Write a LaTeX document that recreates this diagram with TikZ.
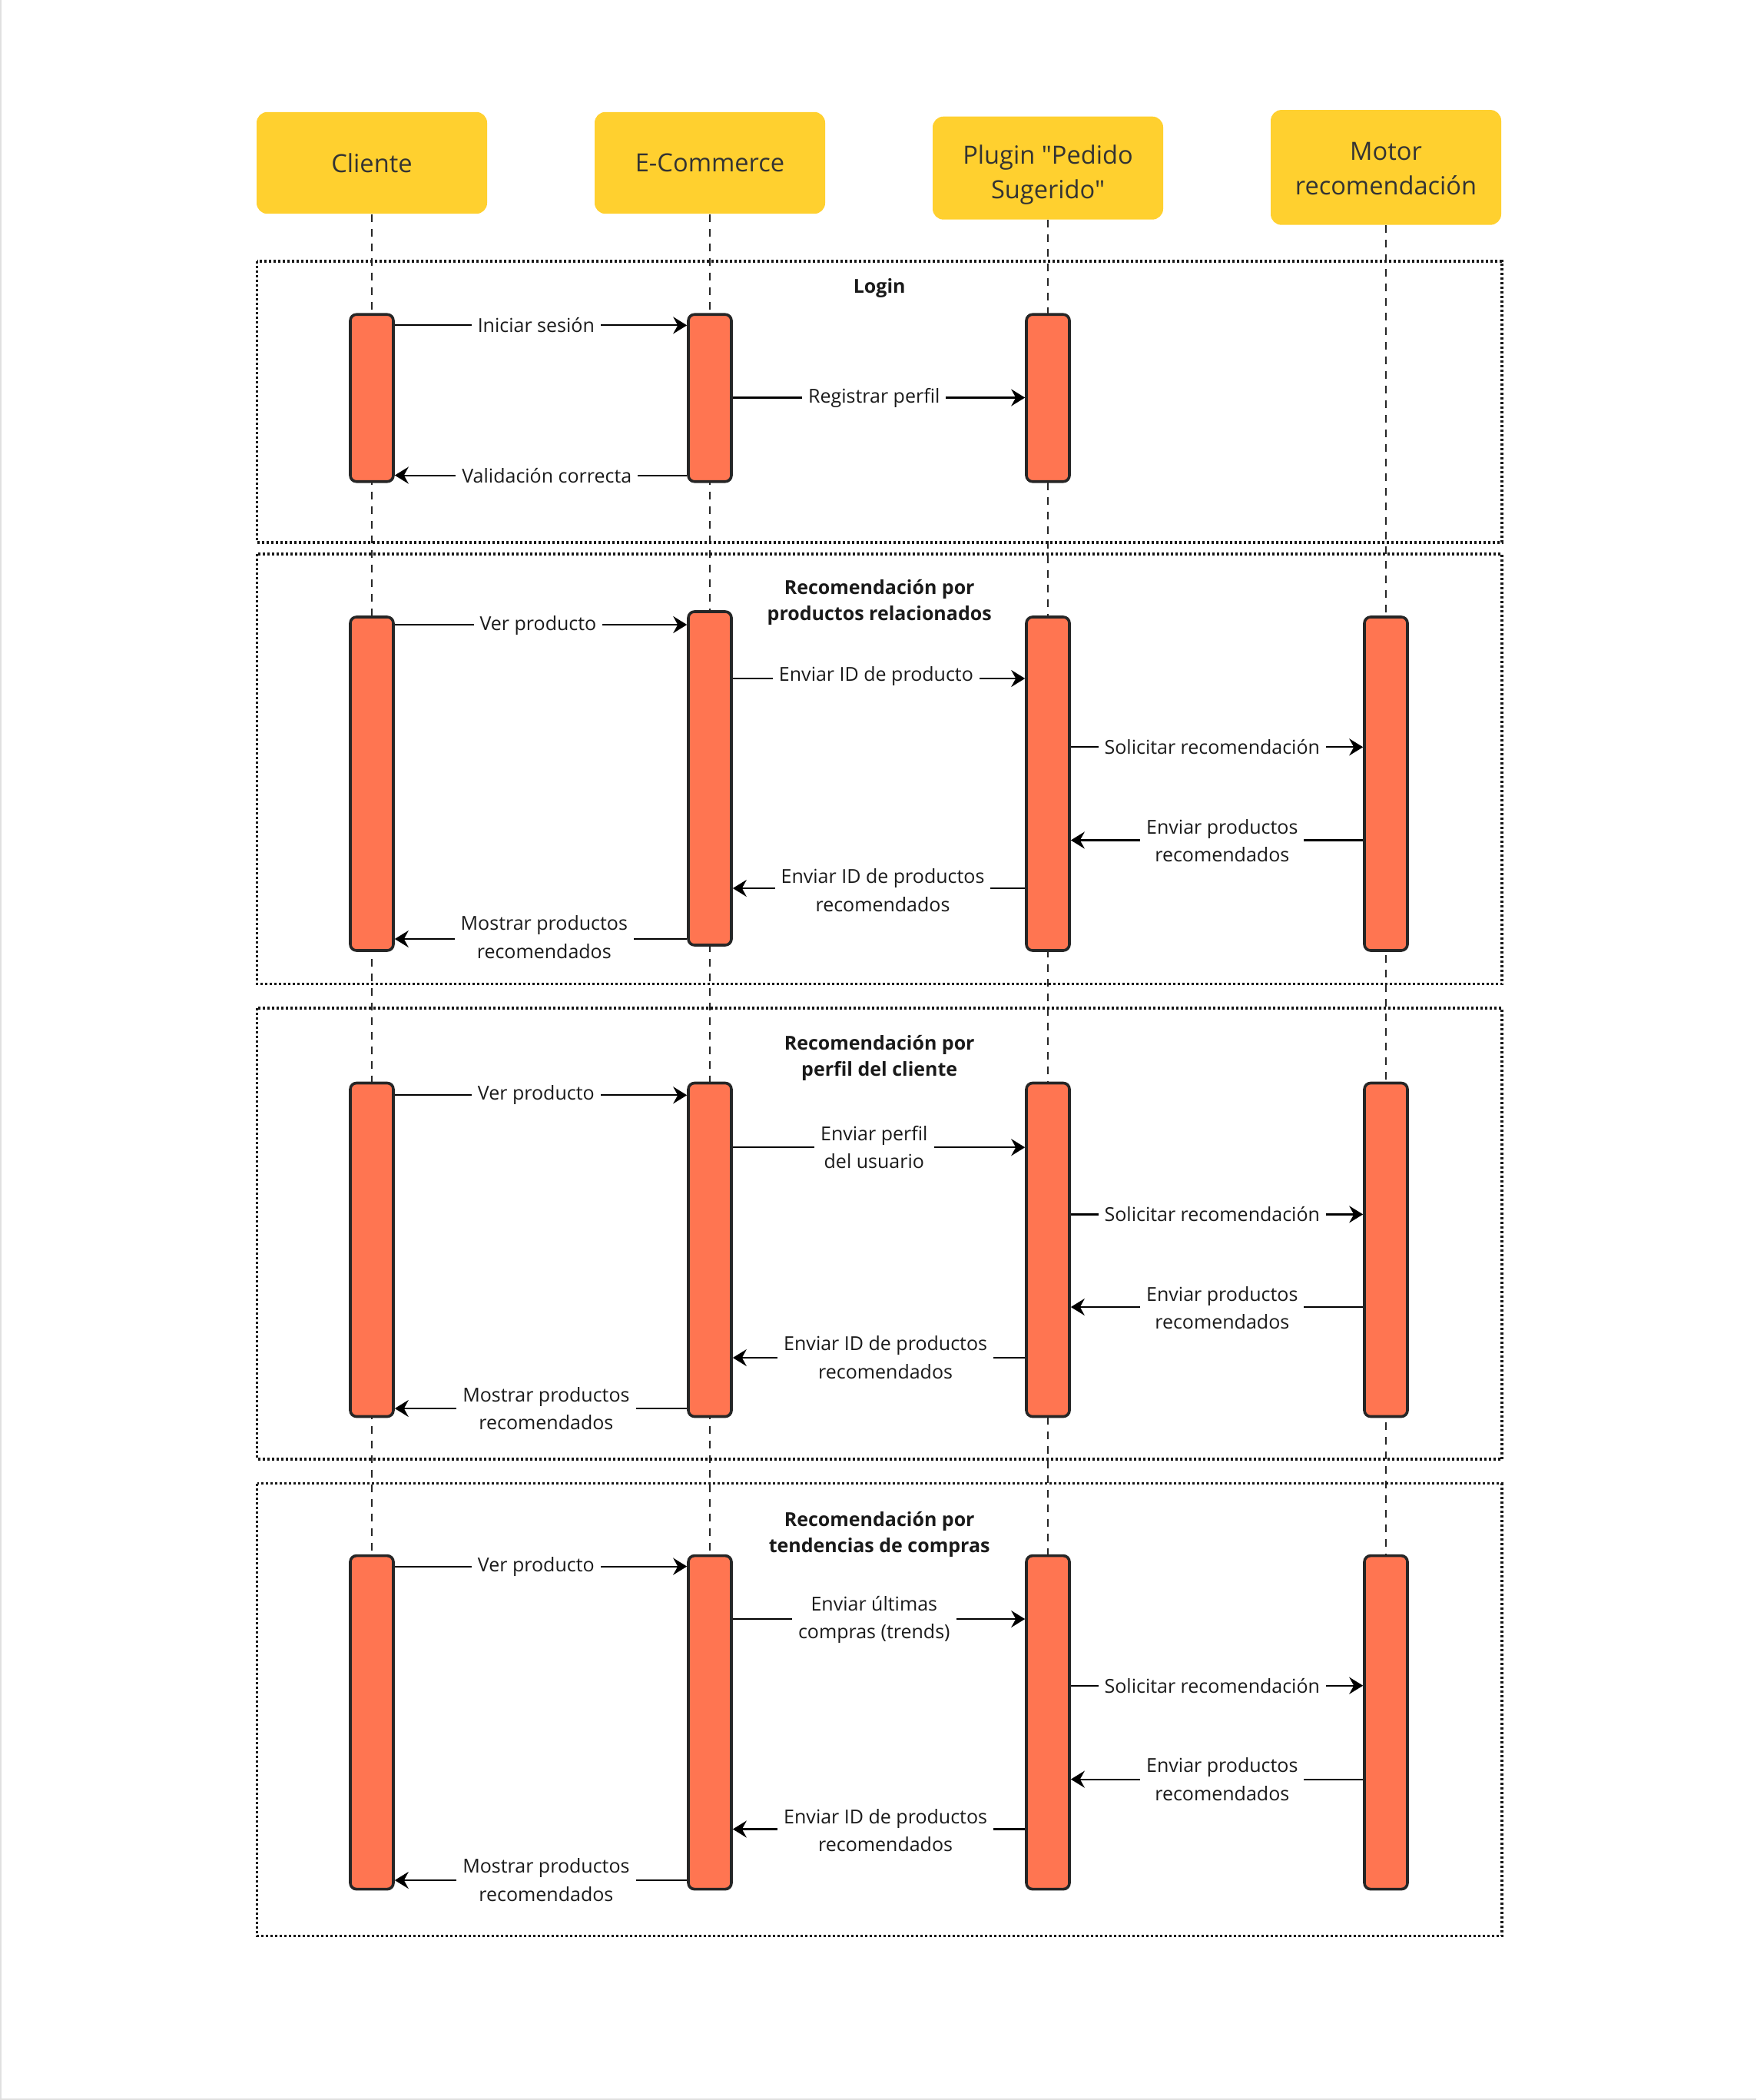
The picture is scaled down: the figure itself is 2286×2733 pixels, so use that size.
\documentclass[tikz,border=0pt]{standalone}
\usepackage{fontspec}
\setmainfont{Open Sans}[Ligatures=TeXOff]
\usetikzlibrary{arrows.meta,backgrounds}
\definecolor{hdr}{HTML}{FFD02F}
\definecolor{barc}{HTML}{FF7551}
\definecolor{txt}{HTML}{1A1A1A}
\definecolor{htxt}{HTML}{333333}
\begin{document}
\begin{tikzpicture}[x=0.5pt,y=-0.5pt,
 header/.style={fill=hdr, rounded corners=7pt, text=htxt, font=\fontsize{16.3}{22.6}\selectfont, align=center, minimum width=150pt, inner sep=0pt},
 lifeline/.style={draw=black!85, line width=1pt, dash pattern=on 5pt off 4.5pt},
 framebox/.style={draw=black!90, line width=1.8pt, dash pattern=on 1.5pt off 1.5pt},
 actbar/.style={draw=black!85, fill=barc, line width=1.8pt, rounded corners=4pt, minimum width=28pt, inner sep=0pt},
 msg/.style={draw=black, line width=1.1pt, -{Stealth[length=9pt,width=11pt,inset=3pt]}},
 lbl/.style={fill=white, text=txt, font=\fontsize{12.5}{18.3}\selectfont, align=center, inner xsep=4pt, inner ysep=1pt},
 ttl/.style={text=txt, font=\fontsize{12.5}{17}\selectfont\bfseries, align=center}
]
\useasboundingbox (0,0) rectangle (2286,2733);

% headers
\node[header, minimum height=66.2pt] (hc) at (484,212) {Cliente};
\node[header, minimum height=66.2pt] (he) at (924,212) {E-Commerce};
\node[header, minimum height=67pt] (hp) at (1364,218.7) {\raisebox{-4.4pt}[\height][\depth]{\parbox{150pt}{\centering Plugin "Pedido\\Sugerido"}}};
\node[header, minimum height=74.8pt] (hm) at (1804,217.9) {\raisebox{-1pt}[\height][\depth]{\parbox{150pt}{\centering Motor\\recomendación}}};

% bars: login
\node[actbar, minimum height=108.75pt] (c1) at (484,518) {};
\node[actbar, minimum height=108.75pt] (e1) at (924,518) {};
\node[actbar, minimum height=108.75pt] (p1) at (1364,518) {};
% bars: frame 2
\node[actbar, minimum height=217pt] (c2) at (484,1020) {};
\node[actbar, minimum height=217pt] (e2) at (924,1013) {};
\node[actbar, minimum height=217pt] (p2) at (1364,1020) {};
\node[actbar, minimum height=217pt] (m2) at (1804,1020) {};
% bars: frame 3
\node[actbar, minimum height=217pt] (c3) at (484,1626.5) {};
\node[actbar, minimum height=217pt] (e3) at (924,1626.5) {};
\node[actbar, minimum height=217pt] (p3) at (1364,1626.5) {};
\node[actbar, minimum height=217pt] (m3) at (1804,1626.5) {};
% bars: frame 4
\node[actbar, minimum height=217pt] (c4) at (484,2241.6) {};
\node[actbar, minimum height=217pt] (e4) at (924,2241.6) {};
\node[actbar, minimum height=217pt] (p4) at (1364,2241.6) {};
\node[actbar, minimum height=217pt] (m4) at (1804,2241.6) {};

\begin{scope}[on background layer]
 \fill[white] (0,0) rectangle (2286,2733);
 \draw[black!12, line width=1pt] (1,0) -- (1,2732) -- (2286,2732);
 \draw[lifeline] (hc.south) -- (c4.south);
 \draw[lifeline] (he.south) -- (e4.south);
 \draw[lifeline] (hp.south) -- (p4.south);
 \draw[lifeline] (hm.south) -- (m4.south);
 \draw[framebox] (334.5,339.8) rectangle (1955,705.7);
 \draw[framebox] (334.5,721) rectangle (1955,1280.6);
 \draw[framebox] (334.5,1312) rectangle (1955,1899);
 \draw[framebox] (334.5,1930.6) rectangle (1955,2519.5);
\end{scope}

% titles
\node[ttl] (t1) at (1144.7,374.6) {Login};
\node[ttl] (t2) at (1144.7,784) {Recomendación por\\productos relacionados};
\node[ttl] (t3) at (1144.7,1376.5) {Recomendación por\\perfil del cliente};
\node[ttl] (t4) at (1144.7,1996.8) {Recomendación por\\tendencias de compras};

% login messages
\draw[msg] (c1.east |- 0,423.4) -- (e1.west |- 0,423.4);
\node[lbl] (l11) at (697.8,423.4) {Iniciar sesión};
\draw[msg] (e1.east |- 0,517.5) -- (p1.west |- 0,517.5);
\node[lbl] (l12) at (1137.8,517.5) {Registrar perfil};
\draw[msg] (e1.west |- 0,618.6) -- (c1.east |- 0,618.6);
\node[lbl] (l13) at (711.8,618.6) {Validación correcta};

% frame 2 messages
\draw[msg] (c2.east |- 0,813) -- (e2.west |- 0,813);
\node[lbl] (l21) at (700.4,814) {Ver producto};
\draw[msg] (e2.east |- 0,883) -- (p2.west |- 0,883);
\node[lbl] (l22) at (1140.4,880) {Enviar ID de producto};
\draw[msg] (p2.east |- 0,972.3) -- (m2.west |- 0,972.3);
\node[lbl] (l23) at (1577.8,972.3) {Solicitar recomendación};
\draw[msg] (m2.west |- 0,1093.5) -- (p2.east |- 0,1093.5);
\node[lbl] (l24) at (1590.8,1094.2) {Enviar productos\\recomendados};
\draw[msg] (p2.west |- 0,1156) -- (e2.east |- 0,1156);
\node[lbl] (l25) at (1149,1158.7) {Enviar ID de productos\\recomendados};
\draw[msg] (e2.west |- 0,1222) -- (c2.east |- 0,1222);
\node[lbl] (l26) at (708.3,1219.7) {Mostrar productos\\recomendados};

% frame 3 messages
\draw[msg] (c3.east |- 0,1425.3) -- (e3.west |- 0,1425.3);
\node[lbl] (l31) at (697.8,1425.3) {Ver producto};
\draw[msg] (e3.east |- 0,1493.2) -- (p3.west |- 0,1493.2);
\node[lbl] (l32) at (1137.8,1493.2) {Enviar perfil\\del usuario};
\draw[msg] (p3.east |- 0,1580.4) -- (m3.west |- 0,1580.4);
\node[lbl] (l33) at (1577.8,1580.4) {Solicitar recomendación};
\draw[msg] (m3.west |- 0,1701) -- (p3.east |- 0,1701);
\node[lbl] (l34) at (1590.8,1702) {Enviar productos\\recomendados};
\draw[msg] (p3.west |- 0,1767) -- (e3.east |- 0,1767);
\node[lbl] (l35) at (1152.6,1766.8) {Enviar ID de productos\\recomendados};
\draw[msg] (e3.west |- 0,1833) -- (c3.east |- 0,1833);
\node[lbl] (l36) at (710.9,1833) {Mostrar productos\\recomendados};

% frame 4 messages
\draw[msg] (c4.east |- 0,2038.6) -- (e4.west |- 0,2038.6);
\node[lbl] (l41) at (697.8,2038.6) {Ver producto};
\draw[msg] (e4.east |- 0,2107) -- (p4.west |- 0,2107);
\node[lbl] (l42) at (1137.8,2108) {Enviar últimas\\compras (trends)};
\draw[msg] (p4.east |- 0,2193.7) -- (m4.west |- 0,2193.7);
\node[lbl] (l43) at (1577.8,2193.7) {Solicitar recomendación};
\draw[msg] (m4.west |- 0,2315.6) -- (p4.east |- 0,2315.6);
\node[lbl] (l44) at (1590.8,2315.6) {Enviar productos\\recomendados};
\draw[msg] (p4.west |- 0,2380.5) -- (e4.east |- 0,2380.5);
\node[lbl] (l45) at (1152.6,2381.9) {Enviar ID de productos\\recomendados};
\draw[msg] (e4.west |- 0,2447) -- (c4.east |- 0,2447);
\node[lbl] (l46) at (710.9,2446.3) {Mostrar productos\\recomendados};
\end{tikzpicture}
\end{document}
